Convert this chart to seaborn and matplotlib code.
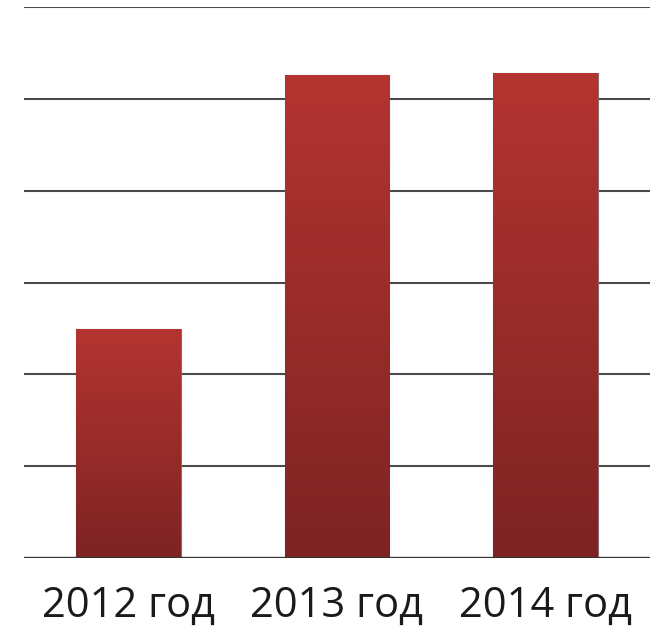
import matplotlib
matplotlib.use("Agg")
import matplotlib.pyplot as plt
import seaborn as sns
import numpy as np
import pandas as pd
from matplotlib.colors import LinearSegmentedColormap

categories = ["2012 год", "2013 год", "2014 год"]
values = [2.49, 5.26, 5.28]

sns.set_theme(style="white")
plt.rcParams['font.family'] = ['Open Sans', 'DejaVu Sans']

fig = plt.figure(figsize=(6.58, 6.28), dpi=100)
ax = fig.add_axes([24/658, 70/628, 626/658, 551/628])

df = pd.DataFrame({"cat": categories, "val": values})
sns.barplot(data=df, x="cat", y="val", color="#9a2b28", width=0.5, ax=ax,
            edgecolor="#8a6a6a", linewidth=0.8, zorder=3)

ax.set_ylim(0, 6)
ax.set_yticks(range(0, 7))
ax.yaxis.grid(True, color="#4a4a4a", linewidth=1.5)
ax.set_axisbelow(True)
for s in ax.spines.values():
    s.set_visible(False)
ax.set_yticklabels([])
ax.tick_params(axis='y', length=0)
ax.tick_params(axis='x', length=0, labelsize=30, pad=19, labelcolor="#1a1a1a")
ax.set_xlabel("")
ax.set_ylabel("")

cmap = LinearSegmentedColormap.from_list("g", ["#7d2423", "#b43431"])
grad = np.linspace(0, 1, 256).reshape(-1, 1)
for p in ax.patches:
    x0, y0 = p.get_x(), p.get_y()
    w, h = p.get_width(), p.get_height()
    im = ax.imshow(grad, cmap=cmap, aspect='auto', origin='lower',
                   extent=[x0, x0 + w, y0, y0 + h], zorder=3.5)
    im.set_clip_path(p)
ax.set_xlim(-0.5, 2.5)
ax.set_ylim(0, 6)
ax.axhline(0, color="#333333", linewidth=1.6, zorder=4)

fig.savefig("out.png", dpi=100)
